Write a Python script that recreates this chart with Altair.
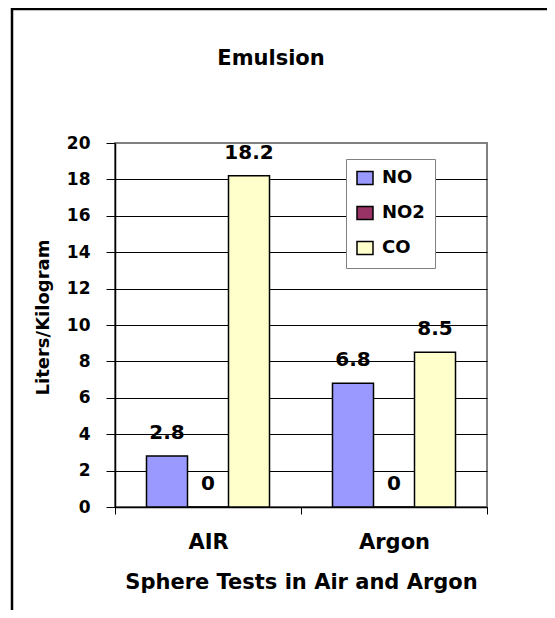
import altair as alt
import pandas as pd

# ---- data ----
categories = ["AIR", "Argon"]
series = ["NO", "NO2", "CO"]
no_values = [2.8, 6.8]
no2_values = [0, 0]
co_values = [18.2, 8.5]
y_ticks = [0, 2, 4, 6, 8, 10, 12, 14, 16, 18, 20]
colors = ["#9999FF", "#993366", "#FFFFCC"]
chart_title = "Emulsion"

rows = []
for i, cat in enumerate(categories):
    for gas, vals in zip(series, [no_values, no2_values, co_values]):
        rows.append({"test": cat, "gas": gas, "value": vals[i]})
df = pd.DataFrame(rows)

FONT = "DejaVu Sans"

x_enc = alt.X(
    "test:N",
    sort=categories,
    scale=alt.Scale(paddingInner=0, paddingOuter=0),
    axis=alt.Axis(
        title="Sphere Tests in Air and Argon",
        labelAngle=0,
        tickBand="extent",
        tickSize=7,
        tickColor="black",
        domainColor="black",
        domainWidth=1.5,
        labelFont=FONT,
        labelFontSize=21,
        labelFontWeight="bold",
        labelColor="black",
        labelPadding=17,
        titleFont=FONT,
        titleFontSize=21,
        titleFontWeight="bold",
        titleColor="black",
        titleX=186,
        titleY=81,
        titleAlign="center",
        titleBaseline="alphabetic",
        grid=False,
    ),
)
xo_enc = alt.XOffset("gas:N", sort=series,
                     scale=alt.Scale(domain=series, paddingOuter=0.768, paddingInner=0))
y_enc = alt.Y(
    "value:Q",
    scale=alt.Scale(domain=[0, 20], nice=False),
    axis=alt.Axis(
        values=y_ticks,
        tickCount=40,
        format="d",
        labelOverlap=False,
        title="Liters/Kilogram",
        grid=True,
        gridColor={"condition": {"test": "datum.value === 20", "value": "#808080"}, "value": "#000000"},
        gridWidth=1,
        tickSize=9,
        tickColor="black",
        domainColor="black",
        domainWidth=1.5,
        labelFont=FONT,
        labelFontSize=17,
        labelFontWeight="bold",
        labelColor="black",
        labelPadding=16,
        titleFont=FONT,
        titleFontSize=18,
        titleFontWeight="bold",
        titleColor="black",
        titleAngle=270,
        titleX=-67,
        titleY=174,
        titleAlign="center",
        titleBaseline="alphabetic",
    ),
)

legend = alt.Legend(
    title=None,
    orient="none",
    legendX=231,
    legendY=16,
    padding=10,
    strokeColor="#808080",
    fillColor="white",
    symbolType="M-1,-0.8H1V0.8H-1Z",
    symbolSize=256,
    symbolStrokeColor="black",
    symbolStrokeWidth=1.5,
    symbolOpacity=1,
    labelFont=FONT,
    labelFontSize=18,
    labelFontWeight="bold",
    labelColor="black",
    labelOffset=8,
    rowPadding=15,
)

frame = alt.Chart(alt.Data(values=[{"f": 1}])).mark_rect(
    fillOpacity=0, stroke="black", strokeWidth=2.5
).encode(
    x=alt.value(-103), x2=alt.value(1000), y=alt.value(-134), y2=alt.value(1000)
)

title_mark = alt.Chart(alt.Data(values=[{"t": chart_title}])).mark_text(
    font=FONT, fontSize=21, fontWeight="bold", color="black",
    align="center", baseline="alphabetic",
).encode(
    x=alt.value(156), y=alt.value(-78), text="t:N"
)

base = alt.Chart(df)

bars = base.mark_bar(stroke="black", strokeWidth=1.5).encode(
    x=x_enc,
    xOffset=xo_enc,
    y=y_enc,
    color=alt.Color("gas:N", sort=series,
                    scale=alt.Scale(domain=series, range=colors), legend=legend),
)

labels = base.mark_text(
    dy=-17, baseline="alphabetic", align="center",
    font=FONT, fontSize=20, fontWeight="bold", color="black",
).encode(
    x=x_enc,
    xOffset=xo_enc,
    y=y_enc,
    text=alt.Text("value:Q"),
)

chart = alt.layer(frame, bars, labels, title_mark).properties(
    width=372,
    height=364,
    autosize=alt.AutoSizeParams(type="none"),
    padding={"left": 107, "top": 135, "right": 60, "bottom": 103},
    background="white",
).configure_view(stroke="#808080", strokeWidth=2)

chart.save("out.html", embed_options={"renderer": "svg", "actions": False})
